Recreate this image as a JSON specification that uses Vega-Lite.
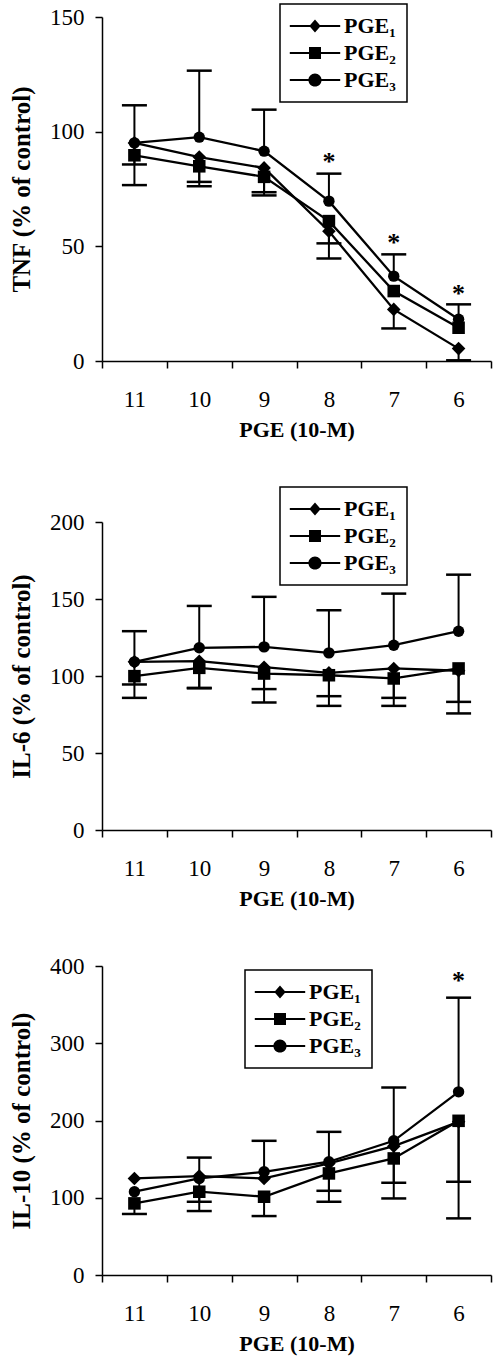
{
  "$schema": "https://vega.github.io/schema/vega-lite/v6.json",
  "padding": {"top": 3, "left": 9, "right": 5, "bottom": 3},
  "spacing": 46,
  "background": "white",
  "resolve": {"scale": {"shape": "independent", "size": "independent"}, "legend": {"shape": "independent", "size": "independent"}},
  "config": {
    "view": {"stroke": null},
    "font": "Liberation Serif",
    "axis": {
      "grid": false,
      "domainColor": "black",
      "domainWidth": 1.5,
      "tickColor": "black",
      "tickWidth": 1.5,
      "tickSize": 7,
      "labelFont": "Liberation Serif",
      "labelFontSize": 23,
      "labelColor": "black",
      "titleFont": "Liberation Serif",
      "titleFontWeight": "bold",
      "titleColor": "black"
    },
    "axisX": {"labelPadding": 20, "titlePadding": 8, "labelAngle": 0, "tickBand": "extent", "titleFontSize": 22},
    "axisY": {"labelPadding": 11, "titlePadding": 15, "titleFontSize": 25},
    "legend": {
      "orient": "none",
      "title": null,
      "strokeColor": "black",
      "strokeWidth": 1.5,
      "padding": 11,
      "labelFont": "Liberation Serif",
      "labelFontSize": 22,
      "labelFontWeight": "bold",
      "labelColor": "black",
      "rowPadding": 5,
      "symbolSize": 144,
      "symbolOpacity": 1,
      "symbolFillColor": "black",
      "symbolStrokeColor": "black",
      "symbolStrokeWidth": 1.6,
      "symbolOffset": 13,
      "labelOffset": 18
    }
  },
  "datasets": {
    "means": [
      {"panel": "TNF", "series": "PGE₁", "dose": "11", "mean": 95.1},
      {"panel": "TNF", "series": "PGE₁", "dose": "10", "mean": 88.9},
      {"panel": "TNF", "series": "PGE₁", "dose": "9", "mean": 84.2},
      {"panel": "TNF", "series": "PGE₁", "dose": "8", "mean": 56.6},
      {"panel": "TNF", "series": "PGE₁", "dose": "7", "mean": 22.5},
      {"panel": "TNF", "series": "PGE₁", "dose": "6", "mean": 5.4},
      {"panel": "TNF", "series": "PGE₂", "dose": "11", "mean": 89.7},
      {"panel": "TNF", "series": "PGE₂", "dose": "10", "mean": 84.9},
      {"panel": "TNF", "series": "PGE₂", "dose": "9", "mean": 80.3},
      {"panel": "TNF", "series": "PGE₂", "dose": "8", "mean": 61.0},
      {"panel": "TNF", "series": "PGE₂", "dose": "7", "mean": 30.5},
      {"panel": "TNF", "series": "PGE₂", "dose": "6", "mean": 14.5},
      {"panel": "TNF", "series": "PGE₃", "dose": "11", "mean": 95.1},
      {"panel": "TNF", "series": "PGE₃", "dose": "10", "mean": 97.6},
      {"panel": "TNF", "series": "PGE₃", "dose": "9", "mean": 91.5},
      {"panel": "TNF", "series": "PGE₃", "dose": "8", "mean": 69.7},
      {"panel": "TNF", "series": "PGE₃", "dose": "7", "mean": 37.0},
      {"panel": "TNF", "series": "PGE₃", "dose": "6", "mean": 18.2},
      {"panel": "IL6", "series": "PGE₁", "dose": "11", "mean": 109.2},
      {"panel": "IL6", "series": "PGE₁", "dose": "10", "mean": 109.6},
      {"panel": "IL6", "series": "PGE₁", "dose": "9", "mean": 105.7},
      {"panel": "IL6", "series": "PGE₁", "dose": "8", "mean": 102.0},
      {"panel": "IL6", "series": "PGE₁", "dose": "7", "mean": 104.9},
      {"panel": "IL6", "series": "PGE₁", "dose": "6", "mean": 103.4},
      {"panel": "IL6", "series": "PGE₂", "dose": "11", "mean": 99.9},
      {"panel": "IL6", "series": "PGE₂", "dose": "10", "mean": 105.3},
      {"panel": "IL6", "series": "PGE₂", "dose": "9", "mean": 101.6},
      {"panel": "IL6", "series": "PGE₂", "dose": "8", "mean": 100.5},
      {"panel": "IL6", "series": "PGE₂", "dose": "7", "mean": 98.4},
      {"panel": "IL6", "series": "PGE₂", "dose": "6", "mean": 104.9},
      {"panel": "IL6", "series": "PGE₃", "dose": "11", "mean": 109.2},
      {"panel": "IL6", "series": "PGE₃", "dose": "10", "mean": 118.3},
      {"panel": "IL6", "series": "PGE₃", "dose": "9", "mean": 118.9},
      {"panel": "IL6", "series": "PGE₃", "dose": "8", "mean": 115.0},
      {"panel": "IL6", "series": "PGE₃", "dose": "7", "mean": 120.0},
      {"panel": "IL6", "series": "PGE₃", "dose": "6", "mean": 129.1},
      {"panel": "IL10", "series": "PGE₁", "dose": "11", "mean": 125.0},
      {"panel": "IL10", "series": "PGE₁", "dose": "10", "mean": 128.0},
      {"panel": "IL10", "series": "PGE₁", "dose": "9", "mean": 125.0},
      {"panel": "IL10", "series": "PGE₁", "dose": "8", "mean": 144.4},
      {"panel": "IL10", "series": "PGE₁", "dose": "7", "mean": 166.8},
      {"panel": "IL10", "series": "PGE₁", "dose": "6", "mean": 198.3},
      {"panel": "IL10", "series": "PGE₂", "dose": "11", "mean": 92.7},
      {"panel": "IL10", "series": "PGE₂", "dose": "10", "mean": 107.8},
      {"panel": "IL10", "series": "PGE₂", "dose": "9", "mean": 101.3},
      {"panel": "IL10", "series": "PGE₂", "dose": "8", "mean": 131.5},
      {"panel": "IL10", "series": "PGE₂", "dose": "7", "mean": 150.9},
      {"panel": "IL10", "series": "PGE₂", "dose": "6", "mean": 199.6},
      {"panel": "IL10", "series": "PGE₃", "dose": "11", "mean": 107.8},
      {"panel": "IL10", "series": "PGE₃", "dose": "10", "mean": 125.0},
      {"panel": "IL10", "series": "PGE₃", "dose": "9", "mean": 133.6},
      {"panel": "IL10", "series": "PGE₃", "dose": "8", "mean": 146.6},
      {"panel": "IL10", "series": "PGE₃", "dose": "7", "mean": 173.7},
      {"panel": "IL10", "series": "PGE₃", "dose": "6", "mean": 237.1}
    ],
    "errs": [
      {"panel": "TNF", "series": "PGE₃", "dose": "11", "mean": 95.1, "end": 111.5},
      {"panel": "TNF", "series": "PGE₂", "dose": "11", "mean": 89.7, "end": 85.7},
      {"panel": "TNF", "series": "PGE₁", "dose": "11", "mean": 95.1, "end": 76.7},
      {"panel": "TNF", "series": "PGE₃", "dose": "10", "mean": 97.6, "end": 126.6},
      {"panel": "TNF", "series": "PGE₂", "dose": "10", "mean": 84.9, "end": 78.1},
      {"panel": "TNF", "series": "PGE₁", "dose": "10", "mean": 88.9, "end": 76.2},
      {"panel": "TNF", "series": "PGE₃", "dose": "9", "mean": 91.5, "end": 109.6},
      {"panel": "TNF", "series": "PGE₂", "dose": "9", "mean": 80.3, "end": 73.6},
      {"panel": "TNF", "series": "PGE₁", "dose": "9", "mean": 84.2, "end": 72.2},
      {"panel": "TNF", "series": "PGE₃", "dose": "8", "mean": 69.7, "end": 81.7},
      {"panel": "TNF", "series": "PGE₂", "dose": "8", "mean": 61.0, "end": 51.3},
      {"panel": "TNF", "series": "PGE₁", "dose": "8", "mean": 56.6, "end": 44.7},
      {"panel": "TNF", "series": "PGE₃", "dose": "7", "mean": 37.0, "end": 46.5},
      {"panel": "TNF", "series": "PGE₁", "dose": "7", "mean": 22.5, "end": 14.2},
      {"panel": "TNF", "series": "PGE₃", "dose": "6", "mean": 18.2, "end": 24.7},
      {"panel": "TNF", "series": "PGE₁", "dose": "6", "mean": 5.4, "end": 0.3},
      {"panel": "IL6", "series": "PGE₃", "dose": "11", "mean": 109.2, "end": 129.1},
      {"panel": "IL6", "series": "PGE₂", "dose": "11", "mean": 99.9, "end": 94.5},
      {"panel": "IL6", "series": "PGE₁", "dose": "11", "mean": 109.2, "end": 85.8},
      {"panel": "IL6", "series": "PGE₃", "dose": "10", "mean": 118.3, "end": 145.5},
      {"panel": "IL6", "series": "PGE₂", "dose": "10", "mean": 105.3, "end": 92.3},
      {"panel": "IL6", "series": "PGE₁", "dose": "10", "mean": 109.6, "end": 92.0},
      {"panel": "IL6", "series": "PGE₃", "dose": "9", "mean": 118.9, "end": 151.4},
      {"panel": "IL6", "series": "PGE₁", "dose": "9", "mean": 105.7, "end": 91.5},
      {"panel": "IL6", "series": "PGE₂", "dose": "9", "mean": 101.6, "end": 82.8},
      {"panel": "IL6", "series": "PGE₃", "dose": "8", "mean": 115.0, "end": 142.7},
      {"panel": "IL6", "series": "PGE₁", "dose": "8", "mean": 102.0, "end": 86.9},
      {"panel": "IL6", "series": "PGE₂", "dose": "8", "mean": 100.5, "end": 80.6},
      {"panel": "IL6", "series": "PGE₃", "dose": "7", "mean": 120.0, "end": 153.5},
      {"panel": "IL6", "series": "PGE₁", "dose": "7", "mean": 104.9, "end": 85.8},
      {"panel": "IL6", "series": "PGE₂", "dose": "7", "mean": 98.4, "end": 80.6},
      {"panel": "IL6", "series": "PGE₃", "dose": "6", "mean": 129.1, "end": 165.8},
      {"panel": "IL6", "series": "PGE₁", "dose": "6", "mean": 103.4, "end": 83.2},
      {"panel": "IL6", "series": "PGE₂", "dose": "6", "mean": 104.9, "end": 75.7},
      {"panel": "IL10", "series": "PGE₂", "dose": "11", "mean": 92.7, "end": 79.0},
      {"panel": "IL10", "series": "PGE₃", "dose": "10", "mean": 125.0, "end": 152.0},
      {"panel": "IL10", "series": "PGE₂", "dose": "10", "mean": 107.8, "end": 94.8},
      {"panel": "IL10", "series": "PGE₁", "dose": "10", "mean": 128.0, "end": 82.8},
      {"panel": "IL10", "series": "PGE₃", "dose": "9", "mean": 133.6, "end": 173.7},
      {"panel": "IL10", "series": "PGE₂", "dose": "9", "mean": 101.3, "end": 76.3},
      {"panel": "IL10", "series": "PGE₃", "dose": "8", "mean": 146.6, "end": 185.3},
      {"panel": "IL10", "series": "PGE₁", "dose": "8", "mean": 144.4, "end": 109.0},
      {"panel": "IL10", "series": "PGE₂", "dose": "8", "mean": 131.5, "end": 94.8},
      {"panel": "IL10", "series": "PGE₃", "dose": "7", "mean": 173.7, "end": 242.7},
      {"panel": "IL10", "series": "PGE₁", "dose": "7", "mean": 166.8, "end": 119.4},
      {"panel": "IL10", "series": "PGE₂", "dose": "7", "mean": 150.9, "end": 99.1},
      {"panel": "IL10", "series": "PGE₃", "dose": "6", "mean": 237.1, "end": 359.0},
      {"panel": "IL10", "series": "PGE₁", "dose": "6", "mean": 198.3, "end": 120.7},
      {"panel": "IL10", "series": "PGE₂", "dose": "6", "mean": 199.6, "end": 73.3}
    ],
    "stars": [
      {"panel": "TNF", "dose": "8", "y": 88.6},
      {"panel": "TNF", "dose": "7", "y": 53.0},
      {"panel": "TNF", "dose": "6", "y": 30.8},
      {"panel": "IL10", "dose": "6", "y": 385.8}
    ]
  },
  "vconcat": [
    {
      "width": 389,
      "height": 344,
      "resolve": {"scale": {"shape": "independent"}, "legend": {"shape": "independent"}},
      "encoding": {
        "x": {"field": "dose", "type": "ordinal", "sort": ["11", "10", "9", "8", "7", "6"], "scale": {"paddingInner": 0, "paddingOuter": 0}, "title": "PGE (10-M)"}
      },
      "layer": [
        {
          "data": {"name": "means"},
          "transform": [{"filter": "datum.panel === 'TNF'"}],
          "mark": {"type": "point", "filled": true, "color": "black", "stroke": "black", "strokeWidth": 1.6, "opacity": 0, "size": 144},
          "encoding": {
            "y": {"field": "mean", "type": "quantitative", "scale": {"domain": [0, 150], "nice": false}, "axis": {"values": [0, 50, 100, 150]}, "title": "TNF (% of control)"},
            "shape": {
              "field": "series", "type": "nominal",
              "scale": {"domain": ["PGE₁", "PGE₂", "PGE₃"], "range": ["M-4.2,-0.17L4.2,-0.17L4.2,0.17L-4.2,0.17ZM0,-1.1L0.95,0L0,1.1L-0.95,0Z", "M-4.2,-0.17L4.2,-0.17L4.2,0.17L-4.2,0.17ZM-1,-1L1,-1L1,1L-1,1Z", "M-4.2,-0.17L4.2,-0.17L4.2,0.17L-4.2,0.17ZM1.1,0A1.1,1.1 0 1,1 -1.1,0A1.1,1.1 0 1,1 1.1,0Z"]},
              "legend": {
                "legendX": 178, "legendY": -13,
                "encode": {"symbols": {"opacity": {"value": 1}, "fillOpacity": {"value": 1}, "fill": {"value": "black"}}}
              }
            }
          }
        },
        {
          "data": {"name": "errs"},
          "transform": [{"filter": "datum.panel === 'TNF'"}],
          "mark": {"type": "rule", "color": "black", "strokeWidth": 2},
          "encoding": {
            "y": {"field": "mean", "type": "quantitative", "title": "TNF (% of control)"},
            "y2": {"field": "end"}
          }
        },
        {
          "data": {"name": "errs"},
          "transform": [{"filter": "datum.panel === 'TNF'"}],
          "mark": {"type": "tick", "orient": "horizontal", "color": "black", "size": 25, "thickness": 2.5, "opacity": 1},
          "encoding": {
            "y": {"field": "end", "type": "quantitative", "title": "TNF (% of control)"}
          }
        },
        {
          "data": {"name": "means"},
          "transform": [{"filter": "datum.panel === 'TNF'"}],
          "mark": {"type": "line", "color": "black", "strokeWidth": 2.3},
          "encoding": {
            "y": {"field": "mean", "type": "quantitative", "title": "TNF (% of control)"},
            "detail": {"field": "series"}
          }
        },
        {
          "data": {"name": "means"},
          "transform": [{"filter": "datum.panel === 'TNF'"}],
          "mark": {"type": "point", "filled": true, "color": "black", "opacity": 1},
          "encoding": {
            "y": {"field": "mean", "type": "quantitative", "title": "TNF (% of control)"},
            "size": {"field": "series", "type": "nominal", "scale": {"range": [185, 130, 145]}, "legend": null},
            "shape": {"field": "series", "type": "nominal", "scale": {"range": ["diamond", "square", "circle"]}, "legend": null}
          }
        },
        {
          "data": {"name": "stars"},
          "transform": [{"filter": "datum.panel === 'TNF'"}],
          "mark": {"type": "text", "text": "*", "font": "Liberation Serif", "fontSize": 26, "fontWeight": "bold", "color": "black", "baseline": "alphabetic", "dy": 12},
          "encoding": {
            "y": {"field": "y", "type": "quantitative", "title": "TNF (% of control)"}
          }
        }
      ]
    },
    {
      "width": 389,
      "height": 308,
      "resolve": {"scale": {"shape": "independent"}, "legend": {"shape": "independent"}},
      "encoding": {
        "x": {"field": "dose", "type": "ordinal", "sort": ["11", "10", "9", "8", "7", "6"], "scale": {"paddingInner": 0, "paddingOuter": 0}, "title": "PGE (10-M)"}
      },
      "layer": [
        {
          "data": {"name": "means"},
          "transform": [{"filter": "datum.panel === 'IL6'"}],
          "mark": {"type": "point", "filled": true, "color": "black", "stroke": "black", "strokeWidth": 1.6, "opacity": 0, "size": 144},
          "encoding": {
            "y": {"field": "mean", "type": "quantitative", "scale": {"domain": [0, 200], "nice": false}, "axis": {"values": [0, 50, 100, 150, 200]}, "title": "IL-6 (% of control)"},
            "shape": {
              "field": "series", "type": "nominal",
              "scale": {"domain": ["PGE₁", "PGE₂", "PGE₃"], "range": ["M-4.2,-0.17L4.2,-0.17L4.2,0.17L-4.2,0.17ZM0,-1.1L0.95,0L0,1.1L-0.95,0Z", "M-4.2,-0.17L4.2,-0.17L4.2,0.17L-4.2,0.17ZM-1,-1L1,-1L1,1L-1,1Z", "M-4.2,-0.17L4.2,-0.17L4.2,0.17L-4.2,0.17ZM1.1,0A1.1,1.1 0 1,1 -1.1,0A1.1,1.1 0 1,1 1.1,0Z"]},
              "legend": {
                "legendX": 178, "legendY": -35,
                "encode": {"symbols": {"opacity": {"value": 1}, "fillOpacity": {"value": 1}, "fill": {"value": "black"}}}
              }
            }
          }
        },
        {
          "data": {"name": "errs"},
          "transform": [{"filter": "datum.panel === 'IL6'"}],
          "mark": {"type": "rule", "color": "black", "strokeWidth": 2},
          "encoding": {
            "y": {"field": "mean", "type": "quantitative", "title": "IL-6 (% of control)"},
            "y2": {"field": "end"}
          }
        },
        {
          "data": {"name": "errs"},
          "transform": [{"filter": "datum.panel === 'IL6'"}],
          "mark": {"type": "tick", "orient": "horizontal", "color": "black", "size": 25, "thickness": 2.5, "opacity": 1},
          "encoding": {
            "y": {"field": "end", "type": "quantitative", "title": "IL-6 (% of control)"}
          }
        },
        {
          "data": {"name": "means"},
          "transform": [{"filter": "datum.panel === 'IL6'"}],
          "mark": {"type": "line", "color": "black", "strokeWidth": 2.3},
          "encoding": {
            "y": {"field": "mean", "type": "quantitative", "title": "IL-6 (% of control)"},
            "detail": {"field": "series"}
          }
        },
        {
          "data": {"name": "means"},
          "transform": [{"filter": "datum.panel === 'IL6'"}],
          "mark": {"type": "point", "filled": true, "color": "black", "opacity": 1},
          "encoding": {
            "y": {"field": "mean", "type": "quantitative", "title": "IL-6 (% of control)"},
            "size": {"field": "series", "type": "nominal", "scale": {"range": [185, 130, 145]}, "legend": null},
            "shape": {"field": "series", "type": "nominal", "scale": {"range": ["diamond", "square", "circle"]}, "legend": null}
          }
        }
      ]
    },
    {
      "width": 389,
      "height": 309,
      "resolve": {"scale": {"shape": "independent"}, "legend": {"shape": "independent"}},
      "encoding": {
        "x": {"field": "dose", "type": "ordinal", "sort": ["11", "10", "9", "8", "7", "6"], "scale": {"paddingInner": 0, "paddingOuter": 0}, "title": "PGE (10-M)"}
      },
      "layer": [
        {
          "data": {"name": "means"},
          "transform": [{"filter": "datum.panel === 'IL10'"}],
          "mark": {"type": "point", "filled": true, "color": "black", "stroke": "black", "strokeWidth": 1.6, "opacity": 0, "size": 144},
          "encoding": {
            "y": {"field": "mean", "type": "quantitative", "scale": {"domain": [0, 400], "nice": false}, "axis": {"values": [0, 50, 100, 150, 200, 250, 300, 350, 400]}, "title": "IL-10 (% of control)"},
            "shape": {
              "field": "series", "type": "nominal",
              "scale": {"domain": ["PGE₁", "PGE₂", "PGE₃"], "range": ["M-4.2,-0.17L4.2,-0.17L4.2,0.17L-4.2,0.17ZM0,-1.1L0.95,0L0,1.1L-0.95,0Z", "M-4.2,-0.17L4.2,-0.17L4.2,0.17L-4.2,0.17ZM-1,-1L1,-1L1,1L-1,1Z", "M-4.2,-0.17L4.2,-0.17L4.2,0.17L-4.2,0.17ZM1.1,0A1.1,1.1 0 1,1 -1.1,0A1.1,1.1 0 1,1 1.1,0Z"]},
              "legend": {
                "legendX": 143, "legendY": 4,
                "encode": {"symbols": {"opacity": {"value": 1}, "fillOpacity": {"value": 1}, "fill": {"value": "black"}}}
              }
            }
          }
        },
        {
          "data": {"name": "errs"},
          "transform": [{"filter": "datum.panel === 'IL10'"}],
          "mark": {"type": "rule", "color": "black", "strokeWidth": 2},
          "encoding": {
            "y": {"field": "mean", "type": "quantitative", "title": "IL-10 (% of control)"},
            "y2": {"field": "end"}
          }
        },
        {
          "data": {"name": "errs"},
          "transform": [{"filter": "datum.panel === 'IL10'"}],
          "mark": {"type": "tick", "orient": "horizontal", "color": "black", "size": 25, "thickness": 2.5, "opacity": 1},
          "encoding": {
            "y": {"field": "end", "type": "quantitative", "title": "IL-10 (% of control)"}
          }
        },
        {
          "data": {"name": "means"},
          "transform": [{"filter": "datum.panel === 'IL10'"}],
          "mark": {"type": "line", "color": "black", "strokeWidth": 2.3},
          "encoding": {
            "y": {"field": "mean", "type": "quantitative", "title": "IL-10 (% of control)"},
            "detail": {"field": "series"}
          }
        },
        {
          "data": {"name": "means"},
          "transform": [{"filter": "datum.panel === 'IL10'"}],
          "mark": {"type": "point", "filled": true, "color": "black", "opacity": 1},
          "encoding": {
            "y": {"field": "mean", "type": "quantitative", "title": "IL-10 (% of control)"},
            "size": {"field": "series", "type": "nominal", "scale": {"range": [185, 130, 145]}, "legend": null},
            "shape": {"field": "series", "type": "nominal", "scale": {"range": ["diamond", "square", "circle"]}, "legend": null}
          }
        },
        {
          "data": {"name": "stars"},
          "transform": [{"filter": "datum.panel === 'IL10'"}],
          "mark": {"type": "text", "text": "*", "font": "Liberation Serif", "fontSize": 26, "fontWeight": "bold", "color": "black", "baseline": "alphabetic", "dy": 12},
          "encoding": {
            "y": {"field": "y", "type": "quantitative", "title": "IL-10 (% of control)"}
          }
        }
      ]
    }
  ]
}
